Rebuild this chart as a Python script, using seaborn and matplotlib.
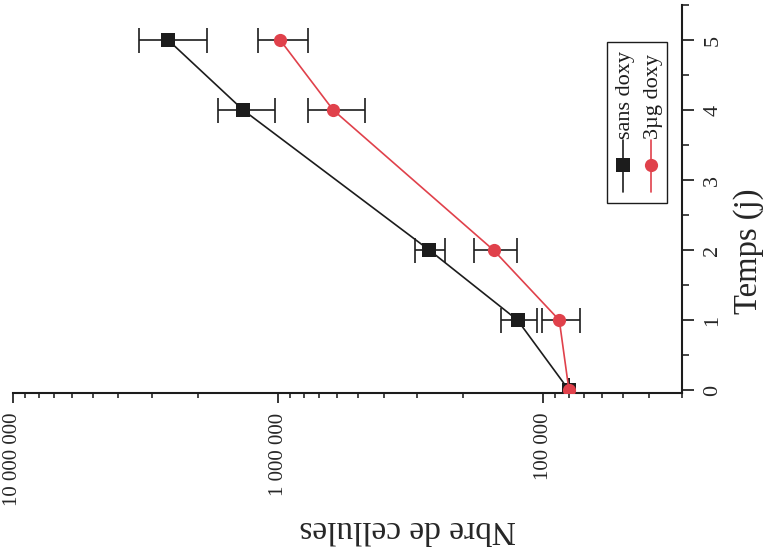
import numpy as np
import pandas as pd
import matplotlib
matplotlib.use("Agg")
import matplotlib.pyplot as plt
import seaborn as sns
from matplotlib.patches import Rectangle
from matplotlib.ticker import LogLocator, NullFormatter, MultipleLocator

# ---------------------------------
# data
# ---------------------------------
jours = [0, 1, 2, 4, 5]
sans_doxy = [80000, 125000, 269000, 1355000, 2600000]
sans_doxy_err = [0, 19000, 35000, 330000, 750000]
doxy_3ug = [80000, 87000, 154000, 620000, 983000]
doxy_3ug_err = [0, 14000, 28000, 150000, 210000]

noms = ["sans doxy", "3µg doxy"]
couleurs = ["#1c1c1c", "#e0414b"]
marqueurs = ["s", "o"]

x_ticks = [1e5, 1e6, 1e7]
x_tick_labels = ["100 000", "1 000 000", "10 000 000"]
y_ticks = [0, 1, 2, 3, 4, 5]

df = pd.DataFrame({
    "jours": jours + jours,
    "cellules": sans_doxy + doxy_3ug,
    "err": sans_doxy_err + doxy_3ug_err,
    "cond": [noms[0]] * len(jours) + [noms[1]] * len(jours),
})

# ---------------------------------
# style
# ---------------------------------
sns.set_style("white")
plt.rcParams["font.family"] = ["Liberation Serif", "DejaVu Serif"]

fig = plt.figure(figsize=(7.68, 5.52), dpi=100)
ax = fig.add_axes([0.0169, 0.288, 0.871, 0.703])

# error bars (black for both series)
for nom in noms:
    sub = df[df["cond"] == nom]
    ax.errorbar(sub["cellules"], sub["jours"], xerr=sub["err"], fmt="none",
                ecolor="#1c1c1c", elinewidth=1.2, capsize=9, capthick=1.2, zorder=2)

sns.lineplot(data=df, x="cellules", y="jours", hue="cond", style="cond",
             hue_order=noms, style_order=noms,
             palette=dict(zip(noms, couleurs)), markers=dict(zip(noms, marqueurs)),
             dashes=False, orient="y", estimator=None, sort=False,
             markersize=9.5, markeredgewidth=0, linewidth=1.2,
             legend=False, ax=ax, zorder=3)

# axes: log scale reversed, time on the right
ax.set_xscale("log")
ax.set_xlim(1e7, 3e4)
ax.set_ylim(-0.04, 5.5)

for s in ["top", "left"]:
    ax.spines[s].set_visible(False)
for s in ["bottom", "right"]:
    ax.spines[s].set_linewidth(1.5)
    ax.spines[s].set_color("#1c1c1c")

ax.set_xticks(x_ticks, labels=x_tick_labels)
ax.xaxis.set_minor_locator(LogLocator(base=10, subs=np.arange(2, 10)))
ax.xaxis.set_minor_formatter(NullFormatter())
ax.tick_params(axis="x", which="major", direction="out", length=7, width=1.3,
               labelsize=15, pad=7, labelrotation=90, bottom=True)
ax.tick_params(axis="x", which="minor", direction="out", length=3.5, width=1.2, bottom=True)

ax.yaxis.tick_right()
ax.yaxis.set_label_position("right")
ax.set_yticks(y_ticks)
ax.yaxis.set_minor_locator(MultipleLocator(0.5))
ax.tick_params(axis="y", which="major", direction="out", length=8.5, width=1.3,
               labelsize=16, pad=7, labelrotation=90, right=True, left=False)
ax.tick_params(axis="y", which="minor", direction="out", length=5, width=1.2,
               right=True, left=False)
for t in ax.get_yticklabels():
    t.set_va("center")

ax.set_xlabel("Nbre de cellules", fontsize=24, rotation=180, ha="center", va="center")
ax.xaxis.set_label_coords(0.59, -0.35)
ax.set_ylabel("Temps (j)", fontsize=23.5, rotation=90, ha="center", va="center")
ax.yaxis.set_label_coords(1.099, 0.366)

# legend, drawn by hand because it is rotated
ax.add_patch(Rectangle((0.888, 0.49), 0.0896, 0.4146, transform=ax.transAxes,
                       fill=False, lw=1.0, ec="#1c1c1c", clip_on=False))
leg_x = [0.9118, 0.9537]
for nom, c, m, lx in zip(noms, couleurs, marqueurs, leg_x):
    ax.plot([lx, lx], [0.518, 0.652], transform=ax.transAxes, color=c, lw=1.2, clip_on=False)
    ax.plot([lx], [0.588], transform=ax.transAxes, color=c, marker=m, markersize=9.5,
            markeredgewidth=0, clip_on=False)
    ax.text(lx + 0.004, 0.655, nom, transform=ax.transAxes, rotation=90,
            ha="center", va="bottom", fontsize=16, color="#1c1c1c")

fig.savefig("out.png", dpi=100)
